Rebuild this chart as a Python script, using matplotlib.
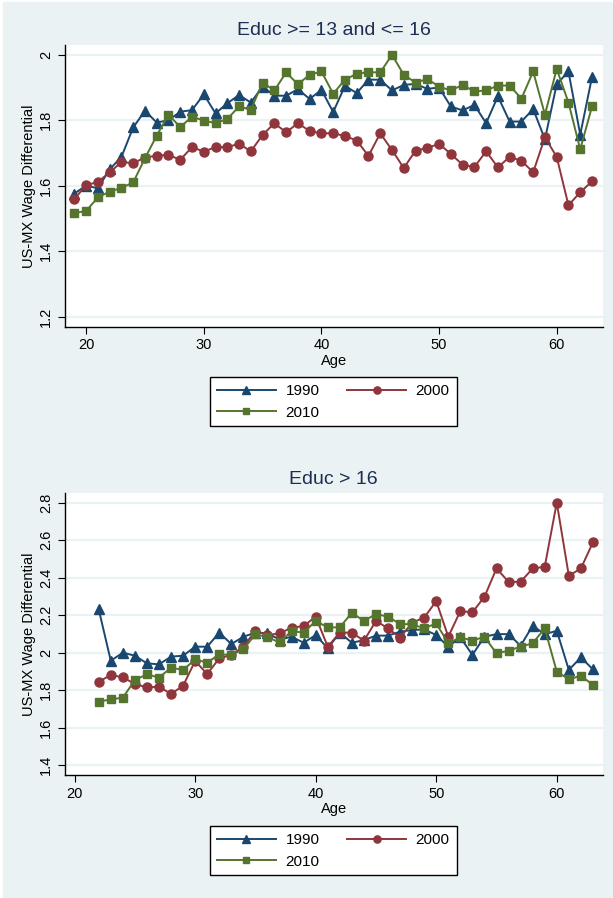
import numpy as np
import matplotlib
matplotlib.use("Agg")
import matplotlib.pyplot as plt
from matplotlib.patches import Rectangle
from matplotlib.ticker import FuncFormatter

plt.rcParams['font.family'] = ['Liberation Sans', 'DejaVu Sans']

# Панель 1: Educ >= 13 and <= 16
ages_a = list(range(19, 64))
a_1990 = [1.576, 1.600, 1.592, 1.650, 1.688, 1.778, 1.829, 1.793, 1.800, 1.826,
          1.831, 1.879, 1.821, 1.852, 1.877, 1.854, 1.903, 1.875, 1.875, 1.895,
          1.865, 1.893, 1.825, 1.905, 1.883, 1.924, 1.924, 1.891, 1.908, 1.911,
          1.896, 1.900, 1.842, 1.830, 1.847, 1.791, 1.873, 1.796, 1.796, 1.834,
          1.742, 1.910, 1.949, 1.756, 1.932]
a_2000 = [1.559, 1.602, 1.611, 1.641, 1.672, 1.669, 1.686, 1.692, 1.694, 1.679,
          1.718, 1.704, 1.718, 1.718, 1.728, 1.705, 1.755, 1.791, 1.763, 1.791,
          1.767, 1.760, 1.760, 1.752, 1.738, 1.691, 1.760, 1.709, 1.654, 1.707,
          1.715, 1.728, 1.697, 1.664, 1.657, 1.705, 1.656, 1.688, 1.676, 1.641,
          1.748, 1.688, 1.540, 1.580, 1.613]
a_2010 = [1.516, 1.523, 1.564, 1.582, 1.593, 1.610, 1.684, 1.753, 1.817, 1.779,
          1.811, 1.799, 1.791, 1.804, 1.842, 1.832, 1.915, 1.891, 1.946, 1.910,
          1.939, 1.949, 1.881, 1.924, 1.942, 1.947, 1.946, 2.000, 1.939, 1.915,
          1.926, 1.903, 1.891, 1.908, 1.888, 1.891, 1.906, 1.906, 1.866, 1.949,
          1.817, 1.957, 1.854, 1.711, 1.842]

# Панель 2: Educ > 16
ages_b = list(range(22, 64))
b_1990 = [2.231, 1.957, 2.000, 1.984, 1.943, 1.938, 1.979, 1.984, 2.032, 2.032,
          2.107, 2.046, 2.085, 2.107, 2.103, 2.070, 2.085, 2.053, 2.094, 2.023,
          2.107, 2.053, 2.067, 2.091, 2.091, 2.112, 2.121, 2.124, 2.094, 2.032,
          2.082, 1.988, 2.085, 2.099, 2.099, 2.037, 2.144, 2.098, 2.117, 1.908,
          1.975, 1.911]
b_2000 = [1.845, 1.881, 1.869, 1.833, 1.815, 1.819, 1.780, 1.824, 1.956, 1.886,
          1.970, 1.988, 2.032, 2.117, 2.094, 2.103, 2.133, 2.142, 2.192, 2.032,
          2.107, 2.107, 2.064, 2.169, 2.130, 2.080, 2.160, 2.187, 2.275, 2.085,
          2.222, 2.215, 2.298, 2.449, 2.378, 2.378, 2.449, 2.458, 2.800, 2.410,
          2.449, 2.588]
b_2010 = [1.739, 1.751, 1.760, 1.854, 1.885, 1.867, 1.920, 1.908, 1.964, 1.947,
          1.991, 1.988, 2.018, 2.099, 2.082, 2.055, 2.115, 2.107, 2.169, 2.135,
          2.135, 2.213, 2.169, 2.206, 2.192, 2.153, 2.151, 2.130, 2.156, 2.050,
          2.082, 2.064, 2.085, 1.996, 2.011, 2.032, 2.050, 2.130, 1.899, 1.858,
          1.877, 1.828]

years = ['1990', '2000', '2010']
colors = ['#1A476F', '#90353B', '#55752F']
markers = ['^', 'o', 's']
msizes = [7, 6.5, 6]
bg = '#EAF2F3'

fig = plt.figure(figsize=(6.13, 8.98), dpi=100, facecolor='white')
fig.patches.append(Rectangle((3 / 613, 1 / 898), 609 / 613, 895 / 898,
                             transform=fig.transFigure, color=bg, zorder=-10))


def panel(rect, ages, series, title, ylim, yticks, xlim, leg_y):
    ax = fig.add_axes(rect)
    ax.set_facecolor('white')
    for vals, c, m, ms, lab in zip(series, colors, markers, msizes, years):
        ax.plot(ages, vals, color=c, marker=m, markersize=ms, lw=1.4, label=lab)
    ax.set_xlim(*xlim)
    ax.set_ylim(*ylim)
    ax.set_xticks([20, 30, 40, 50, 60])
    ax.set_yticks(yticks)
    ax.yaxis.set_major_formatter(FuncFormatter(lambda v, p: f'{v:g}'))
    ax.grid(axis='y', color=bg, lw=1.6)
    ax.set_axisbelow(True)
    for s in ['top', 'right']:
        ax.spines[s].set_visible(False)
    for s in ['left', 'bottom']:
        ax.spines[s].set_color('black')
        ax.spines[s].set_linewidth(1.0)
    ax.tick_params(axis='both', labelsize=10.5, length=5, direction='out', colors='black')
    ax.tick_params(axis='y', labelrotation=90)
    for t in ax.get_yticklabels():
        t.set_va('center')
    ax.set_xlabel('Age', fontsize=10.5, labelpad=1)
    ax.set_ylabel('US-MX Wage Differential', fontsize=10.5, labelpad=2)
    ax.set_title(title, fontsize=14, color='#1E2D53', pad=7)
    h, l = ax.get_legend_handles_labels()
    order = [0, 2, 1]
    leg = ax.legend([h[i] for i in order], [l[i] for i in order], ncol=2,
                    loc='upper center', bbox_to_anchor=(0.5435, leg_y),
                    bbox_transform=fig.transFigure, fontsize=11, frameon=True,
                    fancybox=False, edgecolor='black', framealpha=1,
                    handlelength=3.9, columnspacing=1.8, handletextpad=0.6,
                    borderpad=0.45, labelspacing=0.5, borderaxespad=0,
                    markerscale=0.8)
    leg.get_frame().set_linewidth(1.0)
    return ax


panel([0.106, 0.6362, 0.877, 0.3137], ages_a, [a_1990, a_2000, a_2010],
      'Educ >= 13 and <= 16', (1.169, 2.03), [1.2, 1.4, 1.6, 1.8, 2.0],
      (18.2, 63.9), 1 - 377 / 898)
panel([0.106, 0.1370, 0.877, 0.3137], ages_b, [b_1990, b_2000, b_2010],
      'Educ > 16', (1.348, 2.85), [1.4, 1.6, 1.8, 2.0, 2.2, 2.4, 2.6, 2.8],
      (19.2, 63.8), 1 - 826 / 898)

fig.savefig('out.png', dpi=100, facecolor='white')
